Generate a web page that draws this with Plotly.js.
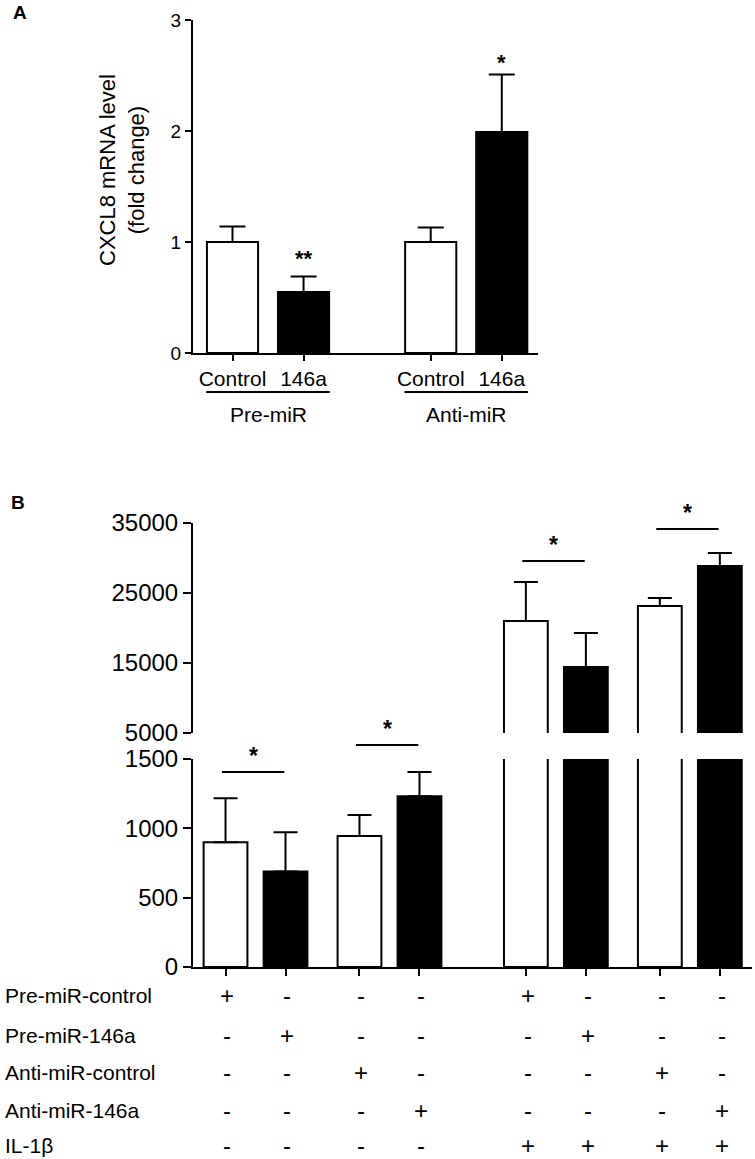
<!DOCTYPE html>
<html><head><meta charset="utf-8">
<script src="https://cdn.plot.ly/plotly-3.0.1.min.js"></script>
<style>html,body{margin:0;padding:0;background:#fff;} #chart{width:755px;height:1159px;}</style>
</head><body><div id="chart"></div>
<script>
// ---------- Panel A data ----------
const aGroups = ["Pre-miR", "Anti-miR"];
const aLabels = ["Control", "146a", "Control", "146a"];
const aValues = [1.00, 0.55, 1.00, 1.99];
const aErrors = [0.14, 0.14, 0.13, 0.52];
const aStars  = ["", "**", "", "*"];
const aTicks  = [0, 1, 2, 3];

// ---------- Panel B data ----------
const bValues = [900, 688, 945, 1232, 21000, 14430, 23140, 28860];
const bErrors = [317, 283, 152, 174, 5570, 4860, 1150, 1850];
const bPairStars = ["*", "*", "*", "*"];
const bLowTicks = [0, 500, 1000, 1500];
const bHighTicks = [5000, 15000, 25000, 35000];
const rowNames = ["Pre-miR-control", "Pre-miR-146a", "Anti-miR-control", "Anti-miR-146a", "IL-1β"];
const rowPreMiRControl  = ["+", "-", "-", "-", "+", "-", "-", "-"];
const rowPreMiR146a     = ["-", "+", "-", "-", "-", "+", "-", "-"];
const rowAntiMiRControl = ["-", "-", "+", "-", "-", "-", "+", "-"];
const rowAntiMiR146a    = ["-", "-", "-", "+", "-", "-", "-", "+"];
const rowIL1b           = ["-", "-", "-", "-", "+", "+", "+", "+"];

// ---------- layout helpers ----------
const W = 755, H = 1159;
const FONT = "Liberation Sans, Arial, Helvetica, sans-serif";
const px = x => x / W;
const py = y => 1 - y / H;
const fillFor = i => (i % 2 === 0 ? "#ffffff" : "#000000");

// bar positions (gap between groups)
const aPos = aValues.map((_, i) => i + Math.floor(i / 2) * 0.79);
const bPos = bValues.map((_, i) => i + Math.floor(i / 2) * 0.233 + (i >= 4 ? 0.54 : 0));

const errA = {type: "data", symmetric: false, array: aErrors, arrayminus: aErrors.map(() => 0),
  color: "#000", thickness: 2, width: 13};
const errB = {type: "data", symmetric: false, array: bErrors, arrayminus: bErrors.map(() => 0),
  color: "#000", thickness: 2, width: 12};

const traces = [
  {type: "bar", x: aPos, y: aValues, width: 0.72, xaxis: "x", yaxis: "y",
   marker: {color: aValues.map((_, i) => fillFor(i)), line: {color: "#000", width: 2}},
   error_y: errA, hoverinfo: "none", showlegend: false},
  {type: "bar", x: bPos, y: bValues, width: 0.73, xaxis: "x2", yaxis: "y2",
   marker: {color: bValues.map((_, i) => fillFor(i)), line: {color: "#000", width: 2}},
   error_y: errB, hoverinfo: "none", showlegend: false},
  {type: "bar", x: bPos, y: bValues, width: 0.73, xaxis: "x3", yaxis: "y3",
   marker: {color: bValues.map((_, i) => fillFor(i)), line: {color: "#000", width: 2}},
   error_y: errB, hoverinfo: "none", showlegend: false}
];

const annotations = [];
const shapes = [];

// panel letters
annotations.push({text: "<b>A</b>", xref: "paper", yref: "paper", x: px(11), y: py(13),
  xanchor: "left", yanchor: "middle", showarrow: false, font: {family: FONT, size: 19, color: "#000"}});
annotations.push({text: "<b>B</b>", xref: "paper", yref: "paper", x: px(9), y: py(502),
  xanchor: "left", yanchor: "middle", showarrow: false, font: {family: FONT, size: 19, color: "#000"}});

// panel A y title
annotations.push({text: "CXCL8 mRNA level<br>(fold change)", xref: "paper", yref: "paper",
  x: px(122), y: py(170), xanchor: "center", yanchor: "middle", textangle: -90, showarrow: false,
  font: {family: FONT, size: 22, color: "#000"}});

// panel A group labels + underlines
aGroups.forEach((g, gi) => {
  const p0 = aPos[gi * 2], p1 = aPos[gi * 2 + 1];
  shapes.push({type: "line", xref: "x", yref: "paper", x0: p0 - 0.37, x1: p1 + 0.37,
    y0: py(392), y1: py(392), line: {color: "#000", width: 2}});
  annotations.push({text: g, xref: "x", yref: "paper", x: (p0 + p1) / 2, y: py(414),
    xanchor: "center", yanchor: "middle", showarrow: false, font: {family: FONT, size: 21, color: "#000"}});
});

// panel A stars
const aStarY = [0, 258, 0, 63];
aStars.forEach((s, i) => {
  if (!s) return;
  annotations.push({text: "<b>" + s + "</b>", xref: "x", yref: "paper", x: aPos[i], y: py(aStarY[i]),
    xanchor: "center", yanchor: "middle", showarrow: false, font: {family: FONT, size: 22, color: "#000"}});
});

// panel B significance bars
const bLineY = [772, 745, 561, 529];
bPairStars.forEach((s, k) => {
  const p0 = bPos[2 * k], p1 = bPos[2 * k + 1];
  shapes.push({type: "line", xref: "x2", yref: "paper", x0: p0 - 0.06, x1: p1 - 0.02,
    y0: py(bLineY[k]), y1: py(bLineY[k]), line: {color: "#000", width: 2}});
  annotations.push({text: "<b>" + s + "</b>", xref: "x2", yref: "paper", x: (p0 + p1) / 2 - 0.04, y: py(bLineY[k] - 16),
    xanchor: "center", yanchor: "middle", showarrow: false, font: {family: FONT, size: 23, color: "#000"}});
});

// panel B treatment table
const rows = [rowPreMiRControl, rowPreMiR146a, rowAntiMiRControl, rowAntiMiR146a, rowIL1b];
const rowY = [995, 1035, 1072, 1110, 1145];
rows.forEach((r, ri) => {
  annotations.push({text: rowNames[ri], xref: "paper", yref: "paper", x: px(3), y: py(rowY[ri]),
    xanchor: "left", yanchor: "middle", showarrow: false, font: {family: FONT, size: 21, color: "#000"}});
  r.forEach((sym, ci) => {
    annotations.push({text: sym, xref: "x2", yref: "paper", x: bPos[ci] + 0.03, y: py(rowY[ri]),
      xanchor: "center", yanchor: "middle", showarrow: false, font: {family: FONT, size: 24, color: "#000"}});
  });
});

const baseAxis = {showgrid: false, zeroline: false, showline: true, linecolor: "#000", linewidth: 2,
  ticks: "outside", tickcolor: "#000", tickwidth: 2, fixedrange: true};

const layout = {
  width: W, height: H, margin: {l: 0, r: 0, t: 0, b: 0},
  paper_bgcolor: "#fff", plot_bgcolor: "rgba(0,0,0,0)",
  font: {family: FONT, color: "#000"},
  showlegend: false, bargap: 0,
  xaxis: Object.assign({}, baseAxis, {domain: [px(193), px(538)], range: [-0.556, 4.30],
    tickmode: "array", tickvals: aPos, ticktext: aLabels, ticklen: 6,
    tickfont: {family: FONT, size: 21, color: "#000"}, anchor: "y"}),
  yaxis: Object.assign({}, baseAxis, {domain: [py(353), py(20)], range: [0, 3],
    tickmode: "array", tickvals: aTicks, ticktext: aTicks.map(String), ticklen: 6,
    tickfont: {family: FONT, size: 19, color: "#000"}, anchor: "x"}),
  xaxis2: Object.assign({}, baseAxis, {domain: [px(193), px(752)], range: [-0.542, 8.775],
    tickmode: "array", tickvals: bPos, showticklabels: false, ticklen: 7, anchor: "y2"}),
  yaxis2: Object.assign({}, baseAxis, {domain: [py(967), py(759)], range: [0, 1500],
    tickmode: "array", tickvals: bLowTicks, ticktext: bLowTicks.map(String), ticklen: 8,
    tickfont: {family: FONT, size: 24, color: "#000"}, anchor: "x2"}),
  xaxis3: {domain: [px(193), px(752)], range: [-0.542, 8.775], visible: false, showline: false,
    showgrid: false, zeroline: false, anchor: "y3", fixedrange: true},
  yaxis3: Object.assign({}, baseAxis, {domain: [py(733), py(523)], range: [5000, 35000],
    tickmode: "array", tickvals: bHighTicks, ticktext: bHighTicks.map(String), ticklen: 8,
    tickfont: {family: FONT, size: 24, color: "#000"}, anchor: "x3"}),
  annotations: annotations,
  shapes: shapes
};

Plotly.newPlot("chart", traces, layout, {displayModeBar: false, staticPlot: true});
</script>
</body></html>
